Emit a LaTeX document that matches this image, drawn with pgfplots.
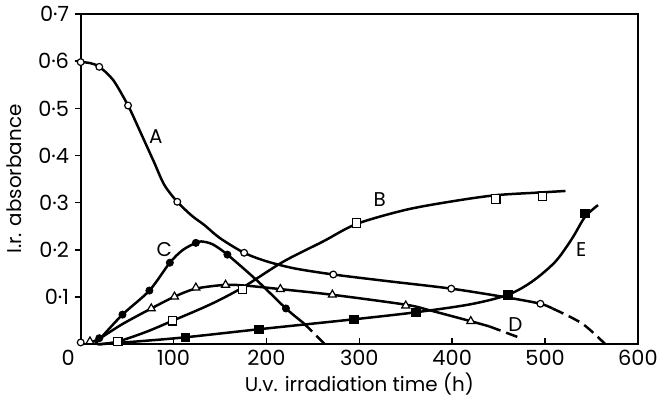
\documentclass[border=0pt]{standalone}
\usepackage{fontspec}
\setmainfont{Poppins}
\usepackage{pgfplots}
\pgfplotsset{compat=1.18}
\begin{document}
\fontsize{9.5}{11}\selectfont
\begin{tikzpicture}
\begin{axis}[
  scale only axis, width=280pt, height=166pt,
  xmin=0, xmax=600, ymin=0, ymax=0.7,
  xtick={0,100,200,300,400,500,600},
  xticklabels={\makebox[0pt][r]{0\hspace{3pt}},100,200,300,400,500,600},
  ytick={0.1,0.2,0.3,0.4,0.5,0.6,0.7},
  yticklabels={0·1,0·2,0·3,0·4,0·5,0·6,0·7},
  xtick pos=bottom, ytick pos=left,
  xtick align=inside, ytick align=outside,
  major tick length=3pt,
  axis line style={line width=0.9pt},
  tick style={black, line width=0.7pt},
  tick label style={font=\fontsize{10.5}{12}\selectfont},
  xticklabel style={yshift=0.5pt},
  yticklabel style={xshift=0.5pt},
  xlabel={U.v. irradiation time (h)},
  ylabel={I.r. absorbance},
  label style={font=\fontsize{10}{12}\selectfont},
  xlabel shift=-3pt, ylabel shift=2pt,
  clip=false,
  curve/.style={smooth, no marks, black, line width=1.25pt},
  dcurve/.style={smooth, no marks, black, line width=1.25pt, dash pattern=on 6pt off 3pt},
]
% curve A
\addplot[curve] coordinates {(0,0.598)(10,0.596)(20,0.588)(35,0.56)(51,0.506)(61,0.464)(70,0.425)(79,0.386)(90,0.338)(104,0.302)(120,0.272)(133,0.253)(150,0.225)(176,0.194)(200,0.176)(230,0.161)(272,0.148)(330,0.134)(399,0.118)(460,0.099)(495,0.086)(508,0.076)};
\addplot[dcurve] coordinates {(508,0.076)(540,0.044)(565,0)};
% curve B
\addplot[curve] coordinates {(20,0)(40,0.006)(70,0.026)(99,0.05)(140,0.085)(174,0.12)(218,0.175)(261,0.218)(297,0.255)(350,0.285)(400,0.303)(447,0.316)(497,0.322)(522,0.325)};
% curve C
\addplot[curve] coordinates {(15,0)(20,0.01)(45,0.063)(74,0.114)(96,0.173)(110,0.2)(124,0.215)(130,0.218)(142,0.212)(158,0.19)(190,0.135)(221,0.076)(240,0.045)};
\addplot[dcurve] coordinates {(240,0.045)(263,0)};
% curve D
\addplot[curve] coordinates {(10,0.004)(20,0.012)(45,0.043)(76,0.076)(101,0.101)(124,0.118)(156,0.126)(180,0.124)(215,0.117)(271,0.105)(350,0.084)(376,0.072)(420,0.049)(440,0.038)};
\addplot[dcurve] coordinates {(440,0.038)(474,0.013)};
% curve E
\addplot[curve] coordinates {(18,0)(60,0.006)(113,0.015)(192,0.032)(294,0.053)(361,0.068)(420,0.085)(460,0.105)(486,0.133)(511,0.175)(529,0.224)(543,0.27)(557,0.295)};
% data points
\addplot[only marks, mark=*, mark size=1.7pt, mark options={fill=white, draw=black, line width=0.6pt}] coordinates {(0,0.004)(0,0.598)(20,0.588)(51,0.506)(104,0.302)(176,0.194)(272,0.148)(399,0.118)(495,0.086)};
\addplot[only marks, mark=square*, mark size=2.1pt, mark options={fill=white, draw=black, line width=0.6pt}] coordinates {(40,0.006)(99,0.05)(174,0.116)(297,0.257)(447,0.308)(497,0.314)};
\addplot[only marks, mark=*, mark size=1.8pt, mark options={fill=black, draw=black}] coordinates {(20,0.013)(45,0.063)(74,0.114)(96,0.173)(124,0.215)(158,0.19)(221,0.076)};
\addplot[only marks, mark=triangle*, mark size=2.3pt, mark options={fill=white, draw=black, line width=0.6pt}] coordinates {(10,0.006)(76,0.076)(101,0.101)(124,0.12)(156,0.126)(215,0.117)(271,0.105)(350,0.082)(420,0.049)};
\addplot[only marks, mark=square*, mark size=2.1pt, mark options={fill=black, draw=black}] coordinates {(113,0.015)(192,0.032)(294,0.053)(361,0.068)(460,0.105)(543,0.277)};
% curve labels
\node[font=\fontsize{10}{12}\selectfont] at (axis cs:81,0.44) {A};
\node[font=\fontsize{10}{12}\selectfont] at (axis cs:322,0.306) {B};
\node[font=\fontsize{10}{12}\selectfont] at (axis cs:90,0.2) {C};
\node[font=\fontsize{10}{12}\selectfont] at (axis cs:468,0.042) {D};
\node[font=\fontsize{10}{12}\selectfont] at (axis cs:539,0.2) {E};
\end{axis}
\end{tikzpicture}
\end{document}
